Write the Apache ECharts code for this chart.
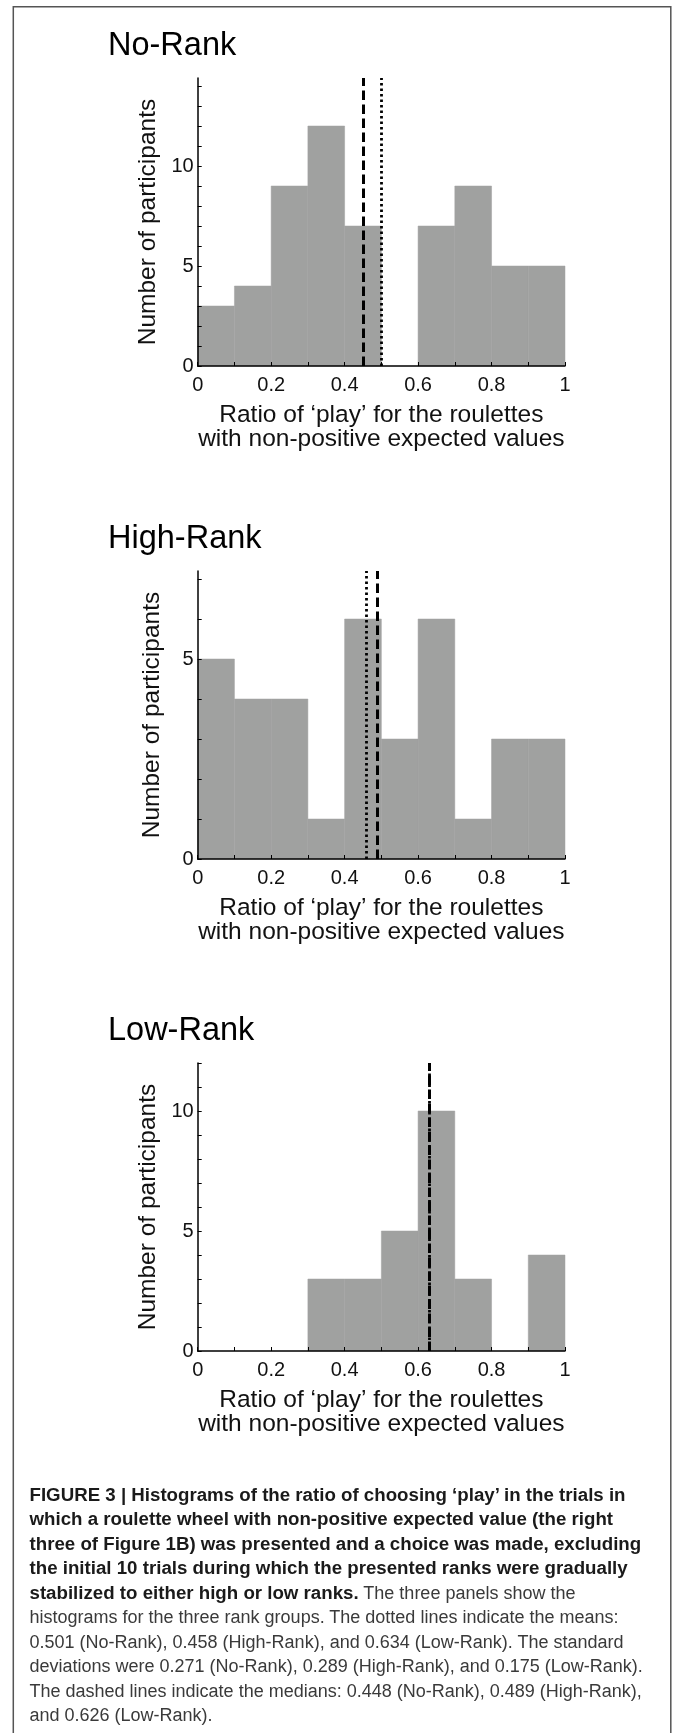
<!DOCTYPE html>
<html>
<head>
<meta charset="utf-8">
<script src="https://cdn.jsdelivr.net/npm/echarts@6/dist/echarts.min.js"></script>
<style>
  html, body { margin: 0; padding: 0; background: #fff; }
  #chart { position: absolute; left: 0; top: 0; width: 675px; height: 1733px; }
  #caption {
    position: absolute; left: 29.5px; top: 1482.5px;
    font-family: 'Liberation Sans', Arial, Helvetica, sans-serif;
    font-size: 18px; line-height: 24.5px; color: #3a3a3a; white-space: nowrap;
  }
  #caption b { font-size: 18.7px; color: #1a1a1a; }
</style>
</head>
<body>
<div id="chart"></div>
<div id="caption"></div>
<script>
// Histogram bins (ratio of 'play'), width 0.1
const binEdges = [0, 0.1, 0.2, 0.3, 0.4, 0.5, 0.6, 0.7, 0.8, 0.9, 1];

// Participant counts per bin
const noRankCounts   = [3, 4, 9, 12, 7, 0, 7, 9, 5, 5];
const highRankCounts = [5, 4, 4, 1, 6, 3, 6, 1, 3, 3];
const lowRankCounts  = [0, 0, 0, 3, 3, 5, 10, 3, 0, 4];

const panelTitles = ['No-Rank', 'High-Rank', 'Low-Rank'];
const groupMeans   = [0.501, 0.458, 0.634];
const groupMedians = [0.448, 0.489, 0.626];
const yAxisMax = [14.4, 7.2, 12];

// Tick marks and tick labels
const xTickValues  = [0, 0.1, 0.2, 0.3, 0.4, 0.5, 0.6, 0.7, 0.8, 0.9, 1];
const xLabelValues = [0, 0.2, 0.4, 0.6, 0.8, 1];
const yTickValues = [
  [0, 1, 2, 3, 4, 5, 6, 7, 8, 9, 10, 11, 12, 13, 14],
  [0, 1, 2, 3, 4, 5, 6, 7],
  [0, 1, 2, 3, 4, 5, 6, 7, 8, 9, 10, 11, 12]
];
const yLabelValues = [[0, 5, 10], [0, 5], [0, 5, 10]];

const xAxisTitle = 'Ratio of \u2018play\u2019 for the roulettes\nwith non-positive expected values';
const yAxisTitle = 'Number of participants';

// Caption lines: [bold part, regular part]
const captionLines = [
  ['FIGURE 3 | Histograms of the ratio of choosing \u2018play\u2019 in the trials in', ''],
  ['which a roulette wheel with non-positive expected value (the right', ''],
  ['three of Figure 1B) was presented and a choice was made, excluding', ''],
  ['the initial 10 trials during which the presented ranks were gradually', ''],
  ['stabilized to either high or low ranks.', ' The three panels show the'],
  ['', 'histograms for the three rank groups. The dotted lines indicate the means:'],
  ['', '0.501 (No-Rank), 0.458 (High-Rank), and 0.634 (Low-Rank). The standard'],
  ['', 'deviations were 0.271 (No-Rank), 0.289 (High-Rank), and 0.175 (Low-Rank).'],
  ['', 'The dashed lines indicate the medians: 0.448 (No-Rank), 0.489 (High-Rank),'],
  ['', 'and 0.626 (Low-Rank).']
];

const counts = [noRankCounts, highRankCounts, lowRankCounts];

// Layout of the three stacked panels
const FONT = "'Liberation Sans', Arial, Helvetica, sans-serif";
const gridLeft = 197.7, gridWidth = 367.3, gridHeight = 288;
const gridTops = [78, 571, 1063];
const titleTops = [30, 523, 1015];

const grids = [], xAxes = [], yAxes = [], series = [], graphics = [];

panelTitles.forEach((title, i) => {
  grids.push({ left: gridLeft, top: gridTops[i], width: gridWidth, height: gridHeight, containLabel: false });

  xAxes.push({
    gridIndex: i, type: 'value', min: 0, max: 1, z: 5,
    axisLine: { show: true, lineStyle: { color: '#000', width: 1.5 } },
    axisTick: { show: true, inside: true, length: 4, customValues: xTickValues, lineStyle: { color: '#000', width: 1 } },
    axisLabel: { customValues: xLabelValues, margin: 9, fontSize: 20, color: '#111', fontFamily: FONT },
    splitLine: { show: false },
    name: xAxisTitle, nameLocation: 'middle', nameGap: 37.5,
    nameTextStyle: { fontSize: 24.5, lineHeight: 24, color: '#111', fontFamily: FONT }
  });

  yAxes.push({
    gridIndex: i, type: 'value', min: 0, max: yAxisMax[i], z: 5,
    axisLine: { show: true, lineStyle: { color: '#000', width: 1.5 } },
    axisTick: { show: true, inside: true, length: 4, customValues: yTickValues[i], lineStyle: { color: '#000', width: 1 } },
    axisLabel: { customValues: yLabelValues[i], margin: 4, fontSize: 20, color: '#111', fontFamily: FONT },
    splitLine: { show: false },
    name: yAxisTitle, nameLocation: 'middle', nameGap: 33,
    nameTextStyle: { fontSize: 24.5, color: '#111', fontFamily: FONT }
  });

  const bins = counts[i].map((c, k) => [binEdges[k], binEdges[k + 1], c]);

  series.push({
    type: 'custom', xAxisIndex: i, yAxisIndex: i, z: 2,
    data: bins,
    encode: { x: [0, 1], y: 2 },
    renderItem: (params, api) => {
      const h = api.value(2);
      if (!h) return null;
      const p0 = api.coord([api.value(0), h]);
      const p1 = api.coord([api.value(1), 0]);
      return {
        type: 'rect',
        shape: { x: p0[0], y: p0[1], width: p1[0] - p0[0], height: p1[1] - p0[1] },
        style: { fill: '#a0a1a0', stroke: '#a0a1a0', lineWidth: 0.5 }
      };
    },
    markLine: {
      silent: true, animation: false, symbol: ['none', 'none'],
      label: { show: false },
      data: [
        { xAxis: groupMedians[i], lineStyle: { color: '#000', width: 3, type: [9.5, 4.5] } },
        { xAxis: groupMeans[i], lineStyle: { color: '#000', width: 2.8, type: [2.5, 3] } }
      ]
    }
  });

  graphics.push({
    type: 'text', x: 108, y: titleTops[i], silent: true,
    style: { text: title, fontSize: 32.5, lineHeight: 32.5, fontFamily: FONT, fill: '#000', verticalAlign: 'top' }
  });
});

// Figure frame
graphics.push({
  type: 'rect', silent: true, z: -1,
  shape: { x: 13.3, y: 6.7, width: 657.5, height: 1800 },
  style: { fill: 'none', stroke: '#555', lineWidth: 1.5 }
});

const chart = echarts.init(document.getElementById('chart'), null, { renderer: 'canvas' });
chart.setOption({
  animation: false,
  backgroundColor: 'transparent',
  grid: grids, xAxis: xAxes, yAxis: yAxes, series: series, graphic: graphics
});

// Caption text
const cap = document.getElementById('caption');
captionLines.forEach(([boldPart, plainPart]) => {
  const line = document.createElement('div');
  if (boldPart) {
    const b = document.createElement('b');
    b.textContent = boldPart;
    line.appendChild(b);
  }
  if (plainPart) line.appendChild(document.createTextNode(plainPart));
  cap.appendChild(line);
});
</script>
</body>
</html>
